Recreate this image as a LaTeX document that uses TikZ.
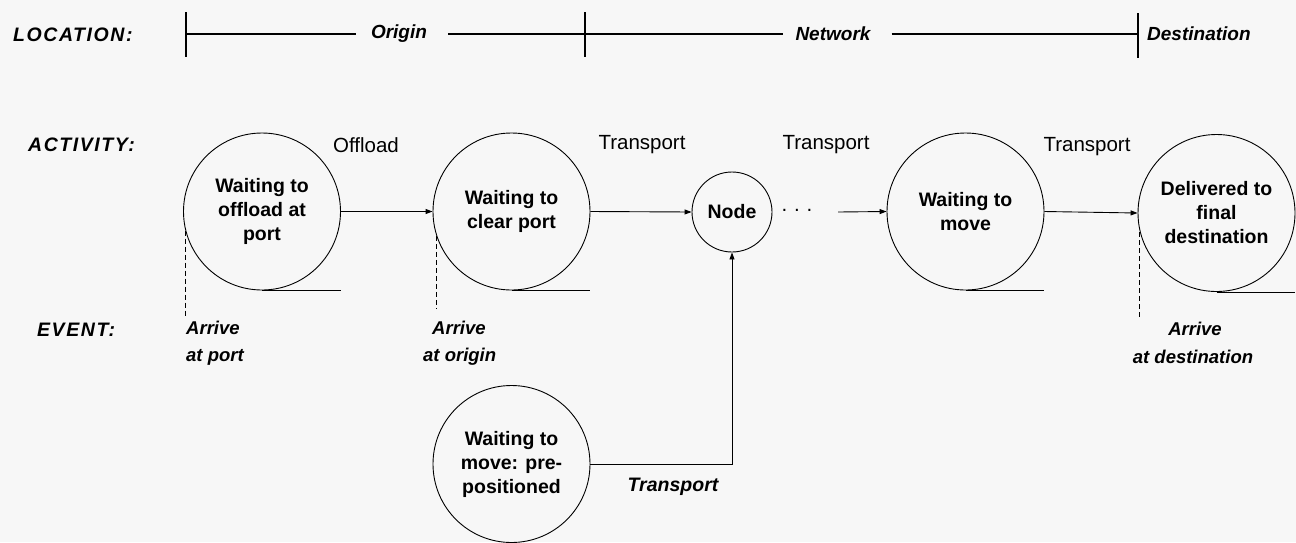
\documentclass[tikz,border=0pt]{standalone}
\usepackage{fontspec}
\setmainfont{Liberation Sans}
\newfontfamily\spacedfont[LetterSpace=8]{Liberation Sans}
\usetikzlibrary{arrows.meta}
\begin{document}
\begin{tikzpicture}[x=1pt,y=-1pt,
  ln/.style={line width=0.9pt,draw=black},
  state/.style={circle,draw,line width=0.9pt,minimum size=157pt,inner sep=0pt,align=center,
    font=\fontsize{19.5}{24}\selectfont\bfseries},
  smallstate/.style={state,minimum size=80pt},
  arr/.style={ln,-{Triangle[length=7pt,width=5pt]}},
  evdash/.style={line width=0.9pt,dash pattern=on 5pt off 3pt},
  hdr/.style={anchor=west,inner sep=0pt,font=\spacedfont\fontsize{19.5}{24}\selectfont\bfseries\itshape},
  loc/.style={inner sep=0pt,font=\fontsize{19}{23}\selectfont\bfseries\itshape},
  act/.style={inner sep=0pt,font=\fontsize{20.5}{24}\selectfont},
  ev/.style={inner sep=0pt,anchor=west,font=\fontsize{18.5}{23}\selectfont\bfseries\itshape},
]
\fill[black!3] (0,0) rectangle (1296,542);
\useasboundingbox (0,0) rectangle (1296,542);

% headers
\node[hdr] (hloc) at (13,35) {LOCATION:};
\node[hdr] (hact) at (28,145) {ACTIVITY:};
\node[hdr] (hev) at (37,330) {EVENT:};

% location line
\coordinate (t1) at (186,34);
\coordinate (t2) at (585,34);
\coordinate (t3) at (1138,34);
\draw[line width=1.1pt] (186,12) -- (186,57);
\draw[line width=1.1pt] (585,12) -- (585,57);
\draw[line width=1.1pt] (1138,13) -- (1138,58);
\node[loc] (origin) at (399,34) {Origin};
\node[loc] (network) at (833,34) {Network};
\node[loc,anchor=west] (dest) at (1147,34) {Destination};
\draw[line width=1.1pt] (t1) -- ([xshift=-15pt]origin.west);
\draw[line width=1.1pt] ([xshift=21pt]origin.east) -- (t2);
\draw[line width=1.1pt] (t2) -- ([xshift=-12pt]network.west);
\draw[line width=1.1pt] ([xshift=21pt]network.east) -- (t3);

% states
\node[state] (c1) at (262,211.5) {Waiting to\\offload at\\port};
\node[state] (c2) at (511.5,211.5) {Waiting to\\clear port};
\node[smallstate] (nd) at (732,212) {Node};
\node[state] (c3) at (965.5,211.5) {Waiting to\\move};
\node[state] (c4) at (1216.5,213) {Delivered to\\final\\destination};
\node[state] (c5) at (511.5,464) {Waiting to\\move: pre-\\positioned};

% tails
\foreach \c in {c1,c2,c3,c4,c5}
  \draw[ln] (\c.south) -- (\c.south -| \c.east);

% activity labels
\node[act] (lo) at (366,145) {Offload};
\node[act] (lt1) at (642,145) {Transport};
\node[act] (lt2) at (826,145) {Transport};
\node[act] (lt3) at (1087,147) {Transport};
\node[act] (dots) at (797,210) {.\,\,.\,\,.};
\coordinate (dotsend) at (838,212);

% connectors
\draw[arr] (c1.east) -- (c2.west);
\draw[arr] (c2.east) -- (nd.west);
\draw[arr] (dotsend) -- (c3.west);
\draw[arr] (c3.east) -- (c4.west);
\draw[arr] (c5.east) -| (nd.south);
\node[loc,font=\fontsize{19.5}{23}\selectfont\bfseries\itshape] (lt4) at (673,487) {Transport};

% event dashed lines
\coordinate (e1) at (0,317);
\coordinate (e2) at (0,308);
\coordinate (e4) at (0,317);
\draw[evdash] (c1.194) -- (c1.194 |- e1);
\draw[evdash] (c2.198) -- (c2.198 |- e2);
\draw[evdash] (c4.194) -- (c4.194 |- e4);

% event labels
\node[ev] (a1) at (186,328) {Arrive};
\node[ev] (a1b) at (186,357) {at port};
\node[ev] (a2) at (432,328) {Arrive};
\node[ev] (a2b) at (423,357) {at origin};
\node[ev,anchor=center] (a4) at (1195,329) {Arrive};
\node[ev,anchor=center] (a4b) at (1193,357) {at destination};
\end{tikzpicture}
\end{document}
